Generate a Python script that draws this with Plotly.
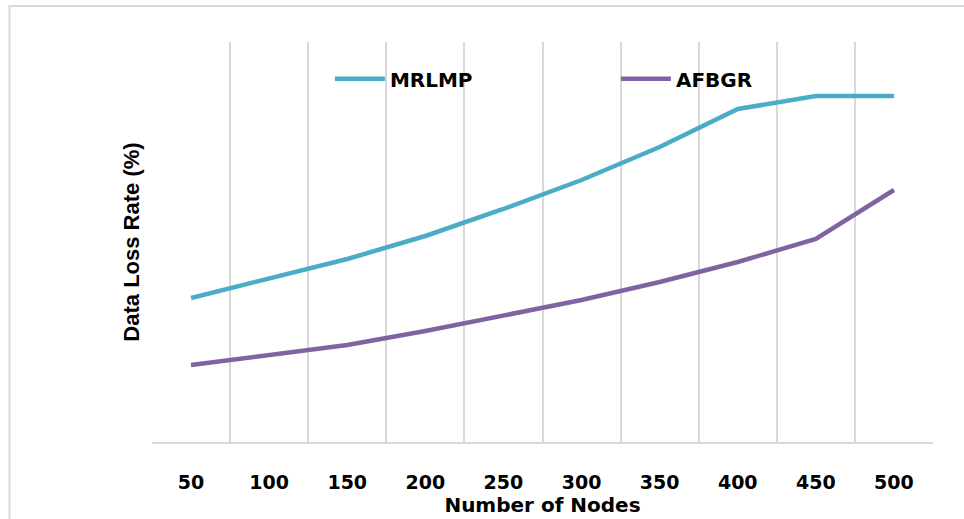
import plotly.graph_objects as go

# Network size (number of nodes) and data loss rate (%) per protocol
nodes = [50, 100, 150, 200, 250, 300, 350, 400, 450, 500]
mrlmp = [14.4, 16.3, 18.3, 20.6, 23.3, 26.2, 29.5, 33.3, 34.6, 34.6]
afbgr = [7.7, 8.7, 9.7, 11.1, 12.7, 14.2, 16.0, 18.0, 20.3, 25.2]
tick_labels = [str(n) for n in nodes]

LABEL_FONT = "DejaVu Sans"

fig = go.Figure()
fig.add_trace(go.Scatter(x=nodes, y=mrlmp, name="MRLMP", mode="lines",
                         line=dict(color="#4BACC6", width=4.5)))
fig.add_trace(go.Scatter(x=nodes, y=afbgr, name="AFBGR", mode="lines",
                         line=dict(color="#8064A2", width=4.5)))

# light outer frame of the chart area
fig.add_shape(type="rect", xref="paper", yref="paper",
              x0=-0.1825, x1=1.2, y0=-0.5, y1=1.09,
              line=dict(color="#d9d9d9", width=2), layer="below")

fig.update_layout(
    width=964, height=519,
    margin=dict(l=152, r=31, t=42, b=77, autoexpand=False),
    paper_bgcolor="white", plot_bgcolor="white",
    font=dict(family=LABEL_FONT, color="black"),
    showlegend=True,
    legend=dict(orientation="h", x=0.594, y=0.908, xanchor="center", yanchor="middle",
                entrywidth=221, entrywidthmode="pixels", itemwidth=50,
                font=dict(family=LABEL_FONT, size=20, color="black", weight="bold"),
                bgcolor="rgba(0,0,0,0)"),
    xaxis=dict(
        range=[25, 525], tickvals=nodes, ticktext=tick_labels,
        showgrid=False, zeroline=False, automargin=False,
        showline=True, linecolor="#d9d9d9", linewidth=2,
        ticks="outside", ticklen=22, tickcolor="rgba(0,0,0,0)",
        tickfont=dict(family=LABEL_FONT, size=19, color="black", weight="bold"),
        minor=dict(tick0=25, dtick=50, showgrid=True, gridcolor="#d9d9d9", gridwidth=2),
        title=dict(text="Number of Nodes", standoff=0,
                   font=dict(family=LABEL_FONT, size=20, color="black", weight="bold")),
    ),
    yaxis=dict(
        range=[0, 40], showticklabels=False, showgrid=False, zeroline=False,
        showline=False, automargin=False,
        title=dict(text="Data Loss Rate (%)", standoff=5,
                   font=dict(family="Liberation Sans", size=22, color="black", weight="bold")),
    ),
)

fig.write_html("out.html")
